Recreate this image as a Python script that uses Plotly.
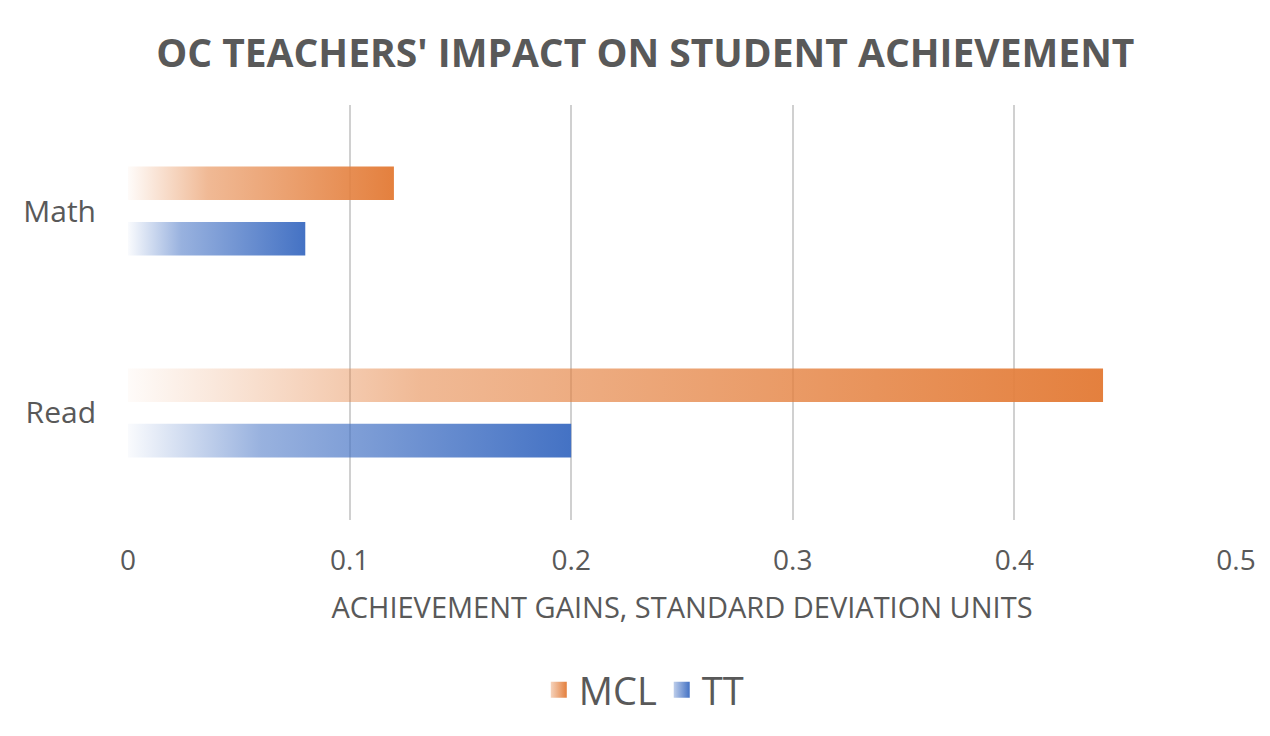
import plotly.graph_objects as go

# ==============================
# Data
# ==============================
subjects = ["Read", "Math"]
mcl_gains = [0.44, 0.12]
tt_gains = [0.20, 0.08]

series_names = ["MCL", "TT"]
series_colors = ["228,128,62", "68,114,196"]

# ==============================
# Layout constants (page adds an 8px body margin)
# ==============================
W, H = 1262, 728
ML, MR, MT, MB = 120, 34, 97, 216
PW, PH = W - ML - MR, H - MT - MB

BAR_OFFSET = 0.137   # distance of each bar centre from category centre
BAR_HALF = 0.083     # half of bar thickness (category units)

TEXT_COLOR = "#595959"
FONT = "Open Sans"


def gradient(rgb):
    return dict(
        type="horizontal",
        colorscale=[
            [0.0, f"rgba({rgb},0.03)"],
            [0.3, f"rgba({rgb},0.55)"],
            [1.0, f"rgba({rgb},1)"],
        ],
    )


fig = go.Figure()

for s, (name, values, rgb) in enumerate(zip(series_names, [mcl_gains, tt_gains], series_colors)):
    offset = BAR_OFFSET if s == 0 else -BAR_OFFSET
    for i, v in enumerate(values):
        yc = i + offset
        fig.add_trace(
            go.Scatter(
                x=[0, v, v, 0, 0],
                y=[yc - BAR_HALF, yc - BAR_HALF, yc + BAR_HALF, yc + BAR_HALF, yc - BAR_HALF],
                fill="toself",
                fillgradient=gradient(rgb),
                fillcolor=f"rgb({rgb})",
                mode="none",
                name=name,
                legendgroup=name,
                showlegend=False,
                hoverinfo="skip",
            )
        )
    # legend entry: gradient square
    fig.add_trace(
        go.Scatter(
            x=[None], y=[None],
            mode="markers",
            name=name,
            legendgroup=name,
            marker=dict(symbol="square", size=16,
                        color=f"rgba({rgb},0.35)",
                        gradient=dict(type="horizontal", color=f"rgb({rgb})"),
                        line=dict(width=0)),
        )
    )

fig.update_layout(
    width=W, height=H,
    margin=dict(l=ML, r=MR, t=MT, b=MB),
    paper_bgcolor="white",
    plot_bgcolor="white",
    font=dict(family=FONT, color=TEXT_COLOR),
    title=dict(
        text="<b>OC TEACHERS' IMPACT ON STUDENT ACHIEVEMENT</b>",
        x=0.505, xanchor="center",
        y=1 - 45 / H, yanchor="middle",
        font=dict(size=39, color=TEXT_COLOR, family=FONT),
    ),
    xaxis=dict(
        range=[0, 0.5],
        tickvals=[0, 0.1, 0.2, 0.3, 0.4, 0.5],
        ticktext=["0", "0.1", "0.2", "0.3", "0.4", "0.5"],
        showgrid=True, gridcolor="#d0d0d0", gridwidth=2,
        zeroline=False, showline=False,
        tickfont=dict(size=28, color=TEXT_COLOR),
        ticklabelstandoff=21,
        title=dict(text="ACHIEVEMENT GAINS, STANDARD DEVIATION UNITS",
                   font=dict(size=29, color=TEXT_COLOR), standoff=20),
        fixedrange=True,
    ),
    yaxis=dict(
        range=[-0.53, 1.525],
        tickvals=[0, 1],
        ticktext=subjects,
        showgrid=False, zeroline=False, showline=False,
        tickfont=dict(size=30, color=TEXT_COLOR),
        ticklabelstandoff=31,
        fixedrange=True,
    ),
    legend=dict(
        orientation="h",
        x=0.4655, xanchor="center",
        y=-0.41, yanchor="middle",
        font=dict(size=38, color=TEXT_COLOR),
        itemwidth=30,
        traceorder="normal",
    ),
)

fig.write_html("out.html")
